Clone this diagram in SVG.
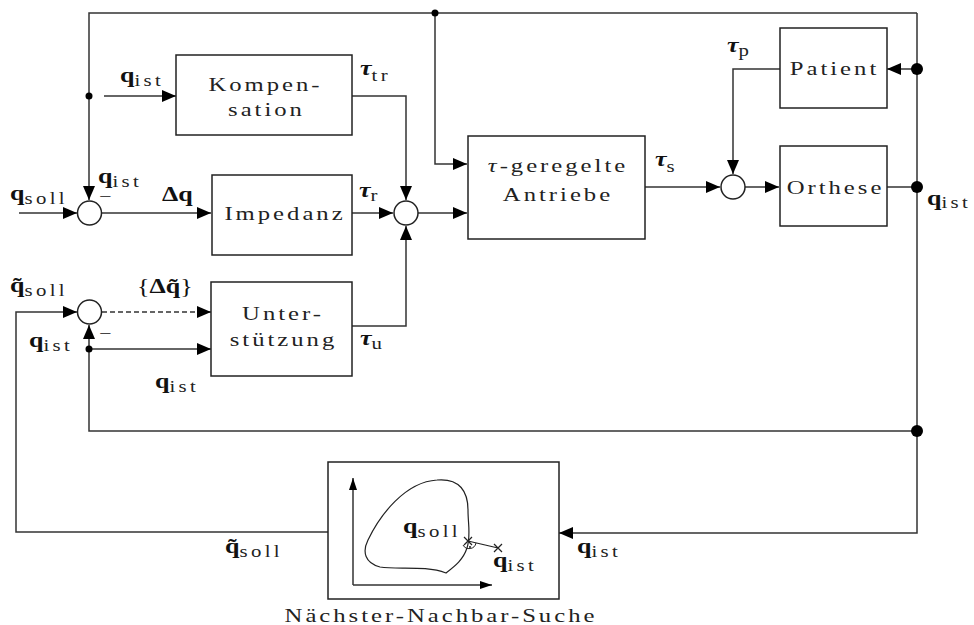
<svg xmlns="http://www.w3.org/2000/svg" width="974" height="625" viewBox="0 0 974 625">
<style>
.ln{fill:none;stroke:#333;stroke-width:1.5}
.bx{fill:#fff;stroke:#222;stroke-width:1.5}
.sj{fill:#fff;stroke:#222;stroke-width:1.5}
.t{font-family:"Liberation Serif","DejaVu Serif",serif;font-size:19px;letter-spacing:2.3px;fill:#222;text-anchor:middle}
.m{font-family:"Liberation Serif","DejaVu Serif",serif;font-size:20px;font-weight:bold;fill:#111}
.tau{font-family:"Liberation Serif","DejaVu Serif",serif;font-size:20px;font-weight:bold;font-style:italic;fill:#111}
.sb{font-size:16px;font-weight:normal;font-style:normal;letter-spacing:2.6px;fill:#222}
.r{font-weight:normal}
.mi{font-family:"Liberation Serif","DejaVu Serif",serif;font-size:17px;fill:#111}
</style>
<defs>
<marker id="ah" viewBox="0 0 14 12" refX="14" refY="6" markerWidth="14" markerHeight="12" orient="auto" markerUnits="userSpaceOnUse"><path d="M0,0 L14,6 L0,12 z" fill="#000"/></marker>
<marker id="as" viewBox="0 0 12 8" refX="12" refY="4" markerWidth="12" markerHeight="8" orient="auto" markerUnits="userSpaceOnUse"><path d="M0,0 L12,4 L0,8 z" fill="#000"/></marker>
</defs>

<g id="connectors">
<path class="ln" d="M917,13 H89 V200" marker-end="url(#ah)"/>
<path class="ln" d="M917,13 V533 H559" marker-end="url(#ah)"/>
<path class="ln" d="M435,13 V164 H467" marker-end="url(#ah)"/>
<path class="ln" d="M104,96 H176" marker-end="url(#ah)"/>
<path class="ln" d="M19,213 H77" marker-end="url(#ah)"/>
<path class="ln" d="M102,213 H211" marker-end="url(#ah)"/>
<path class="ln" d="M352,96 H406 V200" marker-end="url(#ah)"/>
<path class="ln" d="M352,213 H393" marker-end="url(#ah)"/>
<path class="ln" d="M418,213 H467" marker-end="url(#ah)"/>
<path class="ln" d="M352,326 H406 V226" marker-end="url(#ah)"/>
<path class="ln" d="M645,187 H720" marker-end="url(#ah)"/>
<path class="ln" d="M745,187 H779" marker-end="url(#ah)"/>
<path class="ln" d="M780,69 H733 V174" marker-end="url(#ah)"/>
<path class="ln" d="M917,69 H887" marker-end="url(#ah)"/>
<path class="ln" d="M887,187 H917"/>
<path class="ln" d="M917,431 H89 V325" marker-end="url(#ah)"/>
<path class="ln" d="M89,349 H211" marker-end="url(#ah)"/>
<path class="ln" d="M102,312 H211" stroke-dasharray="5 3" marker-end="url(#ah)"/>
<path class="ln" d="M328,532 H16 V312 H77" marker-end="url(#ah)"/>
<circle cx="89" cy="96" r="3.5" fill="#000"/>
<circle cx="435" cy="13" r="3.5" fill="#000"/>
<circle cx="89" cy="349" r="3.5" fill="#000"/>
<circle cx="917" cy="69" r="6" fill="#000"/>
<circle cx="917" cy="187" r="6" fill="#000"/>
<circle cx="917" cy="431" r="6" fill="#000"/>
</g>

<g id="sum1"><circle class="sj" cx="89.5" cy="213" r="12"/></g>
<g id="sum2"><circle class="sj" cx="406" cy="213" r="12"/></g>
<g id="sum3"><circle class="sj" cx="733" cy="187" r="12"/></g>
<g id="sum4"><circle class="sj" cx="89.5" cy="312" r="12"/></g>

<g id="kompensation">
<rect class="bx" x="176" y="55" width="176" height="80"/>
<text class="t" transform="translate(265.5,91) scale(1.3,1)">Kompen-</text>
<text class="t" transform="translate(266.5,116) scale(1.3,1)">sation</text>
</g>
<g id="impedanz">
<rect class="bx" x="212" y="175" width="140" height="80"/>
<text class="t" transform="translate(285,220) scale(1.3,1)">Impedanz</text>
</g>
<g id="unterstuetzung">
<rect class="bx" x="211" y="282" width="141" height="94"/>
<text class="t" transform="translate(283,320) scale(1.3,1)">Unter-</text>
<text class="t" transform="translate(283.5,346) scale(1.3,1)">stützung</text>
</g>
<g id="antriebe">
<rect class="bx" x="468" y="136" width="177" height="103"/>
<text class="t" transform="translate(558,172) scale(1.3,1)"><tspan font-style="italic">τ</tspan>-geregelte</text>
<text class="t" transform="translate(558,201) scale(1.3,1)">Antriebe</text>
</g>
<g id="patient">
<rect class="bx" x="780" y="28" width="107" height="80"/>
<text class="t" transform="translate(834.5,75) scale(1.3,1)">Patient</text>
</g>
<g id="orthese">
<rect class="bx" x="780" y="146" width="107" height="80"/>
<text class="t" transform="translate(835.5,194) scale(1.3,1)">Orthese</text>
</g>
<g id="naechster-nachbar-suche">
<rect class="bx" x="328" y="462" width="231" height="137"/>
<path class="ln" d="M353,585 V478" marker-end="url(#as)"/>
<path class="ln" d="M353,585 H492" marker-end="url(#as)"/>
<path fill="none" stroke="#222" stroke-width="1.2" d="M437,480 C460,478 468,492 468,510 C468,525 471,535 467,548 C463,560 455,566 446,573 C425,565 398,570 380,567 C365,563 362,552 368,540 C380,515 405,482 437,480 Z"/>
<path fill="none" stroke="#222" stroke-width="1.2" d="M468,541 L498,548 M464,537 L472,545 M472,537 L464,545 M494,544 L502,552 M502,544 L494,552"/>
<path fill="none" stroke="#222" stroke-width="1" d="M463,545 A7,7 0 0 0 476,543"/>
<circle cx="470" cy="547" r="0.9" fill="#000"/>
<text class="m" transform="translate(403,533) scale(1.3,1)">q<tspan class="sb" dy="4">soll</tspan></text>
<text class="m" transform="translate(493,567) scale(1.3,1)">q<tspan class="sb" dy="4">ist</tspan></text>
<text class="t" transform="translate(441,622) scale(1.3,1)">Nächster-Nachbar-Suche</text>
</g>

<g id="labels">
<text class="m" transform="translate(120,82) scale(1.3,1)">q<tspan class="sb" dy="4">ist</tspan></text>
<text class="tau" transform="translate(360,75) scale(1.3,1)">τ<tspan class="sb" dy="6">tr</tspan></text>
<text class="m" transform="translate(98,183) scale(1.3,1)">q<tspan class="sb" dy="4">ist</tspan></text>
<text class="mi" transform="translate(99,202) scale(1.3,1)">−</text>
<text class="m" transform="translate(10,200) scale(1.3,1)">q<tspan class="sb" dy="4">soll</tspan></text>
<text class="m" transform="translate(162,201) scale(1.3,1)">Δq</text>
<text class="tau" transform="translate(359,197) scale(1.3,1)">τ<tspan class="sb" dy="4">r</tspan></text>
<text class="tau" transform="translate(655,166) scale(1.3,1)">τ<tspan class="sb" dy="6">s</tspan></text>
<text class="tau" transform="translate(727,52) scale(1.3,1)">τ<tspan class="sb" dy="4">p</tspan></text>
<text class="m" transform="translate(927,205) scale(1.3,1)">q<tspan class="sb" dy="3">ist</tspan></text>
<text class="m" transform="translate(10,292) scale(1.3,1)">q̃<tspan class="sb" dy="4">soll</tspan></text>
<text class="m" transform="translate(137,293) scale(1.3,1)"><tspan class="r">{</tspan>Δq̃<tspan class="r">}</tspan></text>
<text class="m" transform="translate(29,347) scale(1.3,1)">q<tspan class="sb" dy="4">ist</tspan></text>
<text class="mi" transform="translate(99,339) scale(1.3,1)">−</text>
<text class="m" transform="translate(155,388) scale(1.3,1)">q<tspan class="sb" dy="4">ist</tspan></text>
<text class="tau" transform="translate(360,345) scale(1.3,1)">τ<tspan class="sb" dy="4">u</tspan></text>
<text class="m" transform="translate(225,553) scale(1.3,1)">q̃<tspan class="sb" dy="4">soll</tspan></text>
<text class="m" transform="translate(577,553) scale(1.3,1)">q<tspan class="sb" dy="4">ist</tspan></text>
</g>
</svg>
